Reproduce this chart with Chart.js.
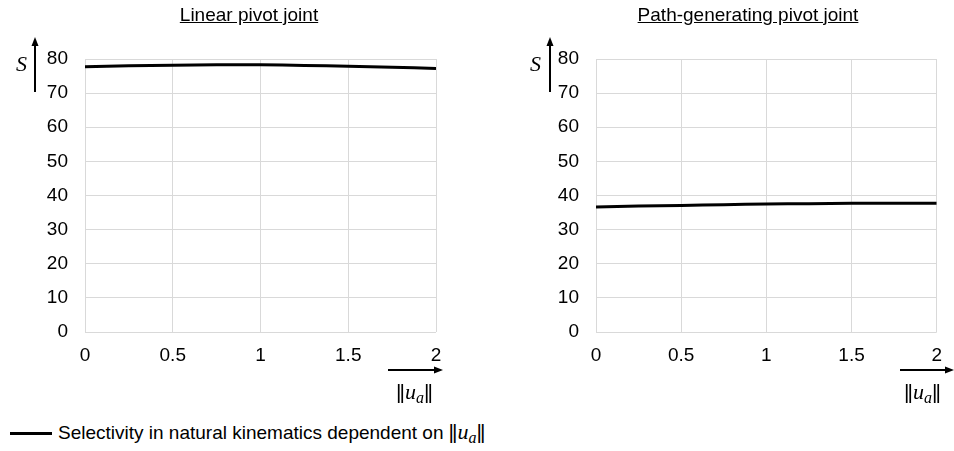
<!DOCTYPE html>
<html>
<head>
<meta charset="utf-8">
<script src="https://cdn.jsdelivr.net/npm/chart.js@4.4.0/dist/chart.umd.min.js"></script>
<style>
  body { margin: 0; background: #fff; font-family: "Liberation Sans", Arial, sans-serif; }
  #wrap { position: relative; width: 954px; height: 451px; overflow: hidden; }
  canvas { position: absolute; top: 0; }
  .title { position: absolute; top: 4px; font-size: 19px; text-decoration: underline; color: #000; white-space: nowrap; transform: translateX(-50%); }
  .math { position: absolute; font-family: "Liberation Serif", "DejaVu Serif", serif; font-size: 22px; color: #000; white-space: nowrap; }
  .math i { font-style: italic; }
  .math sub { font-size: 16px; vertical-align: -4px; }
  .bars { font-family: "Liberation Sans", Arial, sans-serif; font-size: 21px; letter-spacing: -2px; margin-right: 2px; }
  #legend { position: absolute; left: 10px; top: 419px; font-size: 19px; white-space: nowrap; display: flex; align-items: center; }
  #legend .swatch { display: inline-block; width: 42px; height: 3px; background: #000; margin-right: 6px; }
</style>
</head>
<body>
<div id="wrap">
  <canvas id="leftChart" width="470" height="400" style="left:0px"></canvas>
  <canvas id="rightChart" width="443" height="400" style="left:511px"></canvas>
  <div class="title" style="left:249px">Linear pivot joint</div>
  <div class="title" style="left:748px">Path-generating pivot joint</div>
  <div class="math" style="left:16px; top:51px"><i>S</i></div>
  <div class="math" style="left:530px; top:51px"><i>S</i></div>
  <div class="math" style="left:396px; top:379px"><span class="bars">||</span><i>u</i><sub><i>a</i></sub><span class="bars">||</span></div>
  <div class="math" style="left:904px; top:379px"><span class="bars">||</span><i>u</i><sub><i>a</i></sub><span class="bars">||</span></div>
  <div id="legend"><span class="swatch"></span><span>Selectivity in natural kinematics dependent on </span><span class="math" style="position:static; margin-left:5px"><span class="bars">||</span><i>u</i><sub><i>a</i></sub><span class="bars">||</span></span></div>
</div>
<script>
const uValues = [0, 0.25, 0.5, 0.75, 1, 1.25, 1.5, 1.75, 2];
const linearS = [77.7, 78.0, 78.2, 78.3, 78.3, 78.1, 77.9, 77.6, 77.2];
const pathS = [36.6, 36.9, 37.1, 37.3, 37.5, 37.6, 37.7, 37.7, 37.7];
const xTicks = [0, 0.5, 1, 1.5, 2];
const yTicks = [0, 10, 20, 30, 40, 50, 60, 70, 80];

// arrows next to the axes (S up, ||u_a|| right)
const arrowPlugin = {
  id: 'axisArrows',
  afterDraw(chart, args, opts) {
    const ctx = chart.ctx;
    ctx.save();
    ctx.strokeStyle = '#000';
    ctx.fillStyle = '#000';
    ctx.lineWidth = 2;
    // vertical arrow
    const vx = opts.vx;
    ctx.beginPath();
    ctx.moveTo(vx, 92);
    ctx.lineTo(vx, 44);
    ctx.stroke();
    ctx.beginPath();
    ctx.moveTo(vx, 37);
    ctx.lineTo(vx - 3.5, 46);
    ctx.lineTo(vx + 3.5, 46);
    ctx.closePath();
    ctx.fill();
    // horizontal arrow
    const hy = 370;
    ctx.beginPath();
    ctx.moveTo(opts.hx0, hy);
    ctx.lineTo(opts.hx1 - 6, hy);
    ctx.stroke();
    ctx.beginPath();
    ctx.moveTo(opts.hx1, hy);
    ctx.lineTo(opts.hx1 - 9, hy - 3.5);
    ctx.lineTo(opts.hx1 - 9, hy + 3.5);
    ctx.closePath();
    ctx.fill();
    ctx.restore();
  }
};

function makeChart(id, values, padRight, arrows) {
  const ctx = document.getElementById(id).getContext('2d');
  return new Chart(ctx, {
    type: 'line',
    data: {
      datasets: [{
        label: 'Selectivity',
        data: uValues.map((u, i) => ({ x: u, y: values[i] })),
        borderColor: '#000',
        borderWidth: 3,
        pointRadius: 0,
        tension: 0.4,
        fill: false
      }]
    },
    options: {
      responsive: false,
      animation: false,
      devicePixelRatio: 1,
      layout: { padding: { left: 0, top: 59, right: padRight, bottom: 0 } },
      plugins: { legend: { display: false }, tooltip: { enabled: false }, axisArrows: arrows },
      scales: {
        x: {
          type: 'linear', min: 0, max: 2,
          afterBuildTicks: (s) => { s.ticks = xTicks.map(v => ({ value: v })); },
          afterFit: (s) => { s.height = 68; },
          ticks: { color: '#000', font: { size: 19, family: 'Liberation Sans' }, padding: 12, maxRotation: 0,
                   callback: (v) => String(v) },
          grid: { color: '#d9d9d9', drawTicks: false },
          border: { display: false }
        },
        y: {
          min: 0, max: 80,
          afterBuildTicks: (s) => { s.ticks = yTicks.map(v => ({ value: v })); },
          afterFit: (s) => { s.width = 85; },
          ticks: { color: '#000', font: { size: 19, family: 'Liberation Sans' }, padding: 17 },
          grid: { color: '#d9d9d9', drawTicks: false },
          border: { display: false }
        }
      }
    },
    plugins: [arrowPlugin]
  });
}

makeChart('leftChart', linearS, 34, { vx: 35, hx0: 388, hx1: 443 });
makeChart('rightChart', pathS, 7, { vx: 39, hx0: 389, hx1: 443 });
</script>
</body>
</html>
